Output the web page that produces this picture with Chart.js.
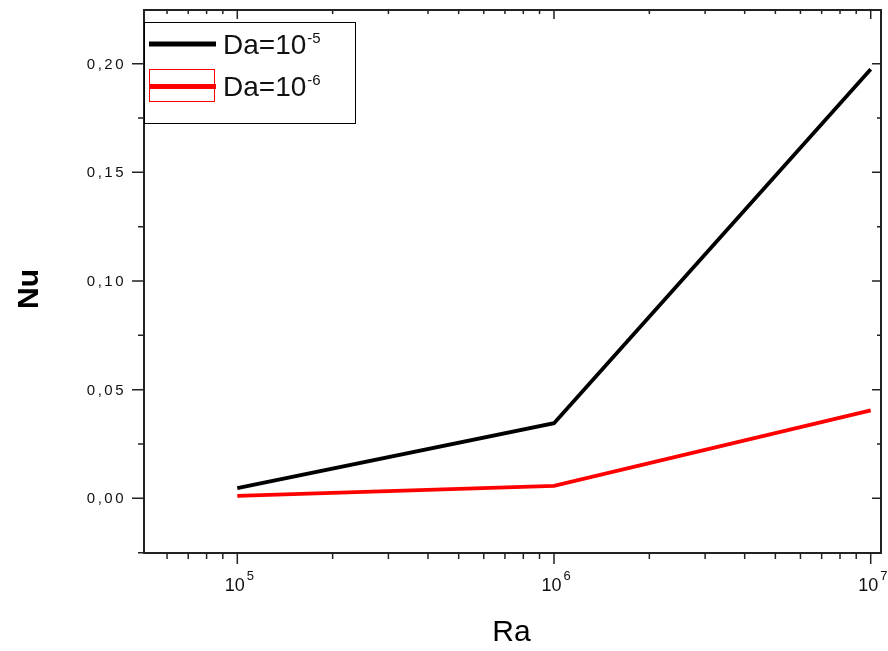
<!DOCTYPE html>
<html>
<head>
<meta charset="utf-8">
<style>
html,body{margin:0;padding:0;background:#fff;}
#wrap{position:relative;width:888px;height:651px;}
</style>
<script src="https://cdn.jsdelivr.net/npm/chart.js@4"></script>
</head>
<body>
<div id="wrap"><canvas id="c" width="888" height="651"></canvas></div>
<script>
// ---- data ----
const raValues = [1e5, 1e6, 1e7];
const nuDa5 = [0.0047, 0.0346, 0.1974];
const nuDa6 = [0.0011, 0.0057, 0.0405];
const seriesLabels = ['Da=10', 'Da=10'];
const seriesExp = ['-5', '-6'];
const yTickValues = [0.00, 0.05, 0.10, 0.15, 0.20];
const yMinorValues = [-0.025, 0.025, 0.075, 0.125, 0.175];
const xMajorExp = [5, 6, 7];
const xTitle = 'Ra';
const yTitle = 'Nu';

const FONT = '"Liberation Sans", Arial, sans-serif';
const pts = (ys) => raValues.map((x, i) => ({x: x, y: ys[i]}));

const xMinorValues = [];
for (let e = 4; e <= 6; e++) for (let m = 2; m <= 9; m++) xMinorValues.push(m * Math.pow(10, e));

const framePlugin = {
  id: 'frame',
  afterDraw(chart) {
    const ctx = chart.ctx;
    const a = chart.chartArea;
    const xs = chart.scales.x, ys = chart.scales.y;
    ctx.save();
    // frame
    ctx.strokeStyle = '#222';
    ctx.lineWidth = 2;
    ctx.strokeRect(a.left, a.top, a.right - a.left, a.bottom - a.top);
    ctx.lineWidth = 1.5;
    ctx.beginPath();
    // x ticks
    const inX = v => { const p = xs.getPixelForValue(v); return p >= a.left - 0.5 && p <= a.right + 0.5 ? p : null; };
    xMinorValues.forEach(v => {
      const p = inX(v); if (p === null) return;
      ctx.moveTo(p, a.bottom); ctx.lineTo(p, a.bottom + 6);
      ctx.moveTo(p, a.top); ctx.lineTo(p, a.top + 4);
    });
    xMajorExp.forEach(e => {
      const p = inX(Math.pow(10, e)); if (p === null) return;
      ctx.moveTo(p, a.bottom); ctx.lineTo(p, a.bottom + 11);
      ctx.moveTo(p, a.top); ctx.lineTo(p, a.top + 9);
    });
    // y ticks
    yMinorValues.forEach(v => {
      const p = ys.getPixelForValue(v);
      if (p < a.top - 0.5 || p > a.bottom + 0.5) return;
      ctx.moveTo(a.left - 6, p); ctx.lineTo(a.left, p);
      ctx.moveTo(a.right, p); ctx.lineTo(a.right - 4, p);
    });
    yTickValues.forEach(v => {
      const p = ys.getPixelForValue(v);
      ctx.moveTo(a.left - 12, p); ctx.lineTo(a.left, p);
      ctx.moveTo(a.right, p); ctx.lineTo(a.right - 9, p);
    });
    ctx.stroke();

    // y tick labels
    ctx.fillStyle = '#111';
    ctx.font = '15px ' + FONT;
    ctx.textAlign = 'right';
    ctx.textBaseline = 'middle';
    try { ctx.letterSpacing = '2.5px'; } catch (e) {}
    yTickValues.forEach(v => {
      const p = ys.getPixelForValue(v);
      ctx.fillText(v.toFixed(2).replace('.', ','), a.left - 18, p + 1);
    });
    try { ctx.letterSpacing = '0px'; } catch (e) {}

    // x tick labels
    ctx.textBaseline = 'alphabetic';
    xMajorExp.forEach(e => {
      const p = xs.getPixelForValue(Math.pow(10, e));
      ctx.font = '18px ' + FONT;
      ctx.textAlign = 'right';
      ctx.fillText('10', p + 7.5, 591);
      ctx.font = '13px ' + FONT;
      ctx.textAlign = 'left';
      ctx.fillText(String(e), p + 9.5, 580);
    });

    // axis titles
    ctx.fillStyle = '#000';
    ctx.font = '30px ' + FONT;
    ctx.textAlign = 'center';
    ctx.textBaseline = 'alphabetic';
    ctx.fillText(xTitle, (a.left + a.right) / 2 - 1, 641);
    ctx.save();
    ctx.translate(38, 289);
    ctx.rotate(-Math.PI / 2);
    ctx.font = 'bold 30px ' + FONT;
    ctx.fillText(yTitle, 0, 0);
    ctx.restore();

    // legend
    ctx.fillStyle = '#fff';
    ctx.fillRect(a.left, 22, 355 - a.left, 101);
    ctx.strokeStyle = '#000';
    ctx.lineWidth = 1;
    ctx.strokeRect(a.left + 0.5, 22.5, 355 - a.left, 101);
    const colors = chart.data.datasets.map(d => d.borderColor);
    const rowsY = [44, 86.5];
    rowsY.forEach((y, i) => {
      if (i === 1) {
        ctx.strokeStyle = colors[i];
        ctx.lineWidth = 1;
        ctx.strokeRect(149.5, 69.5, 65, 32);
      }
      ctx.strokeStyle = colors[i];
      ctx.lineWidth = 5;
      ctx.beginPath();
      ctx.moveTo(149, y); ctx.lineTo(216, y);
      ctx.stroke();
      ctx.fillStyle = '#111';
      ctx.font = '28px ' + FONT;
      ctx.textAlign = 'left';
      ctx.fillText(seriesLabels[i], 223, y + 9.5);
      const w = ctx.measureText(seriesLabels[i]).width;
      ctx.font = '15px ' + FONT;
      ctx.fillText(seriesExp[i], 223 + w + 1, y - 1.5);
    });
    ctx.restore();
  }
};

new Chart(document.getElementById('c'), {
  type: 'line',
  data: {
    datasets: [
      { label: seriesLabels[0] + seriesExp[0], data: pts(nuDa5), borderColor: '#000000', borderWidth: 3.8, pointRadius: 0, tension: 0, fill: false },
      { label: seriesLabels[1] + seriesExp[1], data: pts(nuDa6), borderColor: '#ff0000', borderWidth: 3.8, pointRadius: 0, tension: 0, fill: false }
    ]
  },
  options: {
    responsive: false,
    animation: false,
    events: [],
    layout: { padding: { left: 144, top: 10, right: 7, bottom: 98 } },
    plugins: { legend: { display: false }, tooltip: { enabled: false } },
    scales: {
      x: { type: 'logarithmic', display: false, min: Math.pow(10, 4.7054), max: Math.pow(10, 7.0325) },
      y: { type: 'linear', display: false, min: -0.02515, max: 0.2247 }
    }
  },
  plugins: [framePlugin]
});
</script>
</body>
</html>
